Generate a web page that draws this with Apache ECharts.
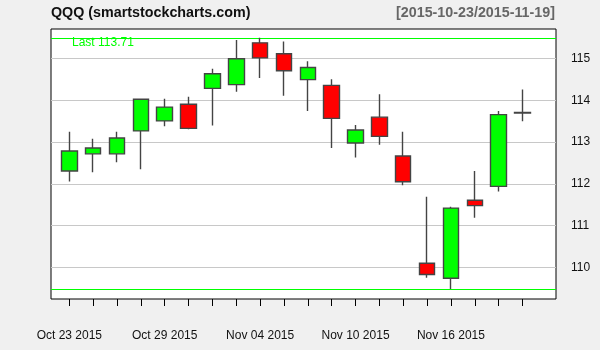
<!DOCTYPE html>
<html>
<head>
<meta charset="utf-8">
<script src="https://cdn.jsdelivr.net/npm/echarts@6/dist/echarts.min.js"></script>
<style>html,body{margin:0;padding:0;background:#f0f0f0;}#c{width:600px;height:350px;}</style>
</head>
<body>
<div id="c"></div>
<script>
var symbol = 'QQQ';
var dates = ['2015-10-23','2015-10-26','2015-10-27','2015-10-28','2015-10-29','2015-10-30',
  '2015-11-02','2015-11-03','2015-11-04','2015-11-05','2015-11-06','2015-11-09',
  '2015-11-10','2015-11-11','2015-11-12','2015-11-13','2015-11-16','2015-11-17',
  '2015-11-18','2015-11-19'];
var open  = [112.31,112.72,112.72,113.27,113.51,113.91,114.29,114.38,115.38,115.12,114.50,114.36,112.98,113.60,112.67,110.10,109.74,111.61,111.94,113.70];
var close = [112.79,112.86,113.10,114.03,113.84,113.33,114.64,115.00,115.02,114.71,114.79,113.57,113.29,113.14,112.05,109.83,111.42,111.48,113.66,113.71];
var high  = [113.25,113.08,113.25,114.04,114.04,114.09,114.76,115.45,115.50,115.41,114.94,114.51,113.41,114.15,113.25,111.69,111.45,112.31,113.75,114.26];
var low   = [112.06,112.28,112.52,112.35,113.38,113.31,113.40,114.21,114.54,114.11,113.75,112.86,112.63,112.94,111.97,109.75,109.48,111.19,111.82,113.50];
var yTicks = [110,111,112,113,114,115];

var months = ['Jan','Feb','Mar','Apr','May','Jun','Jul','Aug','Sep','Oct','Nov','Dec'];
function fmtDate(d){ var p=d.split('-'); return months[+p[1]-1]+' '+p[2]+' '+p[0]; }

var ohlc = dates.map(function(d,i){ return [open[i], close[i], low[i], high[i]]; });
var maxHigh = Math.max.apply(null, high);
var minLow = Math.min.apply(null, low);
var yMin = 109.242, yMax = 115.712;
var FONT = 'Liberation Sans, Arial, sans-serif';

var chart = echarts.init(document.getElementById('c'), null, {renderer:'canvas'});
chart.setOption({
  backgroundColor: '#f0f0f0',
  animation: false,
  title: [
    {text: symbol + ' (smartstockcharts.com)', left: 51, top: 6, padding: 0,
     textStyle: {fontFamily: FONT, fontSize: 14.3, fontWeight: 'bold', color: '#111'}},
    {text: '[' + dates[0] + '/' + dates[dates.length-1] + ']', right: 45, top: 6, padding: 0,
     textStyle: {fontFamily: FONT, fontSize: 14.3, fontWeight: 'bold', color: '#666'}}
  ],
  grid: [
    {left: 51, right: 44, top: 29, bottom: 51, show: true, backgroundColor: '#fff',
     borderColor: '#000', borderWidth: 1},
    {left: 57.4, right: 65.6, top: 29, bottom: 51, show: false}
  ],
  xAxis: [
    {type: 'value', gridIndex: 0, min: 0, max: 1, show: false},
    {type: 'category', gridIndex: 1, data: dates, boundaryGap: true,
     axisLine: {show: false},
     axisTick: {show: true, alignWithLabel: true, interval: 0, length: 7, lineStyle: {color: '#000', width: 1}},
     axisLabel: {interval: 3, margin: 31, fontFamily: FONT, fontSize: 12, color: '#111',
       formatter: function(v){ return fmtDate(v); }},
     splitLine: {show: false}}
  ],
  yAxis: [
    {type: 'value', gridIndex: 0, min: yMin, max: yMax, position: 'right',
     axisLine: {show: false},
     axisTick: {show: true, customValues: yTicks, length: 7, lineStyle: {color: '#000'}},
     axisLabel: {show: true, customValues: yTicks, margin: 15, fontFamily: FONT, fontSize: 12, color: '#111'},
     splitLine: {show: false}},
    {type: 'value', gridIndex: 1, min: yMin, max: yMax, show: false, splitLine: {show: false}}
  ],
  series: [
    {type: 'line', xAxisIndex: 0, yAxisIndex: 0, data: [[0,112],[1,112]],
     showSymbol: false, lineStyle: {width: 0, opacity: 0}, silent: true, z: 1,
     markLine: {silent: true, symbol: 'none', animation: false, label: {show: false},
       data: yTicks.map(function(t){ return {yAxis: t, lineStyle: {color: '#c8c8c8', width: 1, type: 'solid'}}; })
         .concat([
           {yAxis: maxHigh, lineStyle: {color: '#00ff00', width: 1, type: 'solid'}},
           {yAxis: minLow, lineStyle: {color: '#00ff00', width: 1, type: 'solid'}}
         ])}},
    {type: 'candlestick', xAxisIndex: 1, yAxisIndex: 1, data: ohlc, barWidth: 16, z: 5,
     itemStyle: {color: '#00ff00', color0: '#ff0000', borderColor: '#444', borderColor0: '#444',
       borderColorDoji: '#444', borderWidth: 1.4}}
  ],
  graphic: [
    {type: 'text', left: 72, top: 37, z: 100,
     style: {text: 'Last ' + close[close.length-1].toFixed(2), fill: '#00ff00', font: '12px ' + FONT}}
  ]
});
</script>
</body>
</html>
